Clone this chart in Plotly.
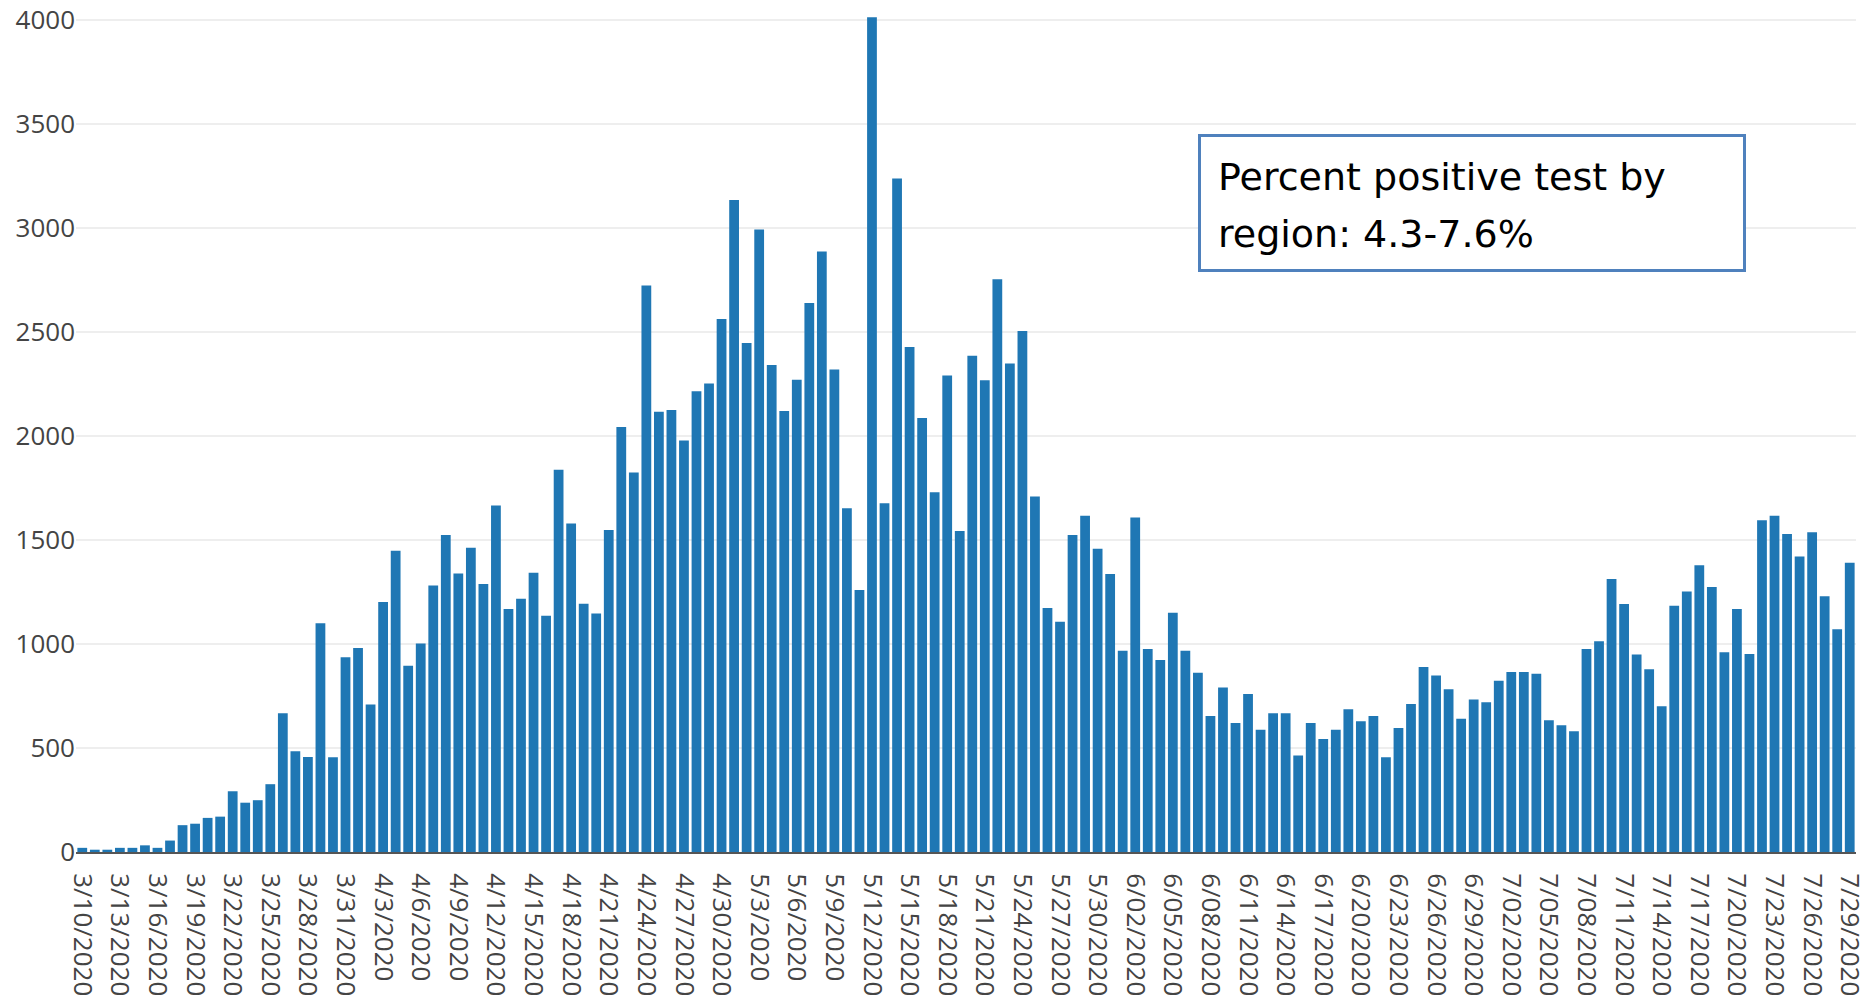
import pandas as pd
import plotly.graph_objects as go

# ---- data ----
dates = [d.strftime("%Y-%m-%d") for d in pd.date_range("2020-03-10", "2020-07-29", freq="D")]

cases = [
    20, 11, 11, 20, 20, 32, 20, 55, 129, 136,
    164, 170, 292, 237, 249, 326, 667, 484, 457, 1100,
    455, 936, 981, 709, 1202, 1448, 896, 1002, 1281, 1524,
    1339, 1463, 1289, 1666, 1168, 1218, 1342, 1136, 1838, 1579,
    1194, 1147, 1548, 2043, 1825, 2724, 2117, 2125, 1978, 2215,
    2252, 2563, 3135, 2447, 2993, 2341, 2120, 2270, 2639, 2887,
    2320, 1653, 1260, 4013, 1677, 3238, 2428, 2086, 1730, 2291,
    1543, 2386, 2268, 2753, 2349, 2505, 1709, 1173, 1107, 1524,
    1616, 1458, 1337, 968, 1608, 976, 923, 1150, 968, 862,
    654, 791, 620, 759, 588, 667, 667, 464, 620, 543,
    588, 686, 628, 654, 456, 596, 712, 889, 849, 783,
    641, 733, 720, 823, 865, 865, 857, 633, 609, 581,
    976, 1013, 1313, 1192, 949, 878, 701, 1184, 1252, 1379,
    1274, 960, 1168, 952, 1595, 1616, 1529, 1421, 1537, 1229,
    1071, 1390,
]

tick_labels = [
    "3/10/2020", "3/13/2020", "3/16/2020", "3/19/2020", "3/22/2020", "3/25/2020",
    "3/28/2020", "3/31/2020", "4/3/2020", "4/6/2020", "4/9/2020", "4/12/2020",
    "4/15/2020", "4/18/2020", "4/21/2020", "4/24/2020", "4/27/2020", "4/30/2020",
    "5/3/2020", "5/6/2020", "5/9/2020", "5/12/2020", "5/15/2020", "5/18/2020",
    "5/21/2020", "5/24/2020", "5/27/2020", "5/30/2020", "6/02/2020", "6/05/2020",
    "6/08/2020", "6/11/2020", "6/14/2020", "6/17/2020", "6/20/2020", "6/23/2020",
    "6/26/2020", "6/29/2020", "7/02/2020", "7/05/2020", "7/08/2020", "7/11/2020",
    "7/14/2020", "7/17/2020", "7/20/2020", "7/23/2020", "7/26/2020", "7/29/2020",
]
tick_positions = dates[::3]

y_ticks = [0, 500, 1000, 1500, 2000, 2500, 3000, 3500, 4000]
y_range = [0, 4096]

note_lines = ["Percent positive test by", "region: 4.3-7.6%"]

# ---- layout geometry (pixels; page body margin removed via post_script) ----
W, H = 1870, 998
L, R, T, B = 76, 14, 0, 146
PW = W - L - R
PH = H - T - B


def px_x(px):
    return (px - L) / PW


def px_y(py):
    return (H - B - py) / PH


fig = go.Figure(
    go.Bar(
        x=dates,
        y=cases,
        marker=dict(color="#1f77b4", line=dict(width=0)),
        hoverinfo="x+y",
    )
)

fig.update_layout(
    width=W,
    height=H,
    margin=dict(l=L, r=R, t=T, b=B, autoexpand=False),
    paper_bgcolor="white",
    plot_bgcolor="white",
    bargap=0.22,
    showlegend=False,
    font=dict(family="Open Sans", size=26, color="#444"),
)

fig.update_xaxes(
    type="category",
    tickmode="array",
    tickvals=tick_positions,
    ticktext=tick_labels,
    tickangle=90,
    tickfont=dict(family="Open Sans", size=26, color="#444"),
    ticklabelstandoff=14,
    ticklabeloverflow="allow",
    showgrid=False,
    showline=True,
    linecolor="#555",
    linewidth=2,
    ticks="",
    automargin=False,
)

fig.update_yaxes(
    range=y_range,
    tickmode="array",
    tickvals=y_ticks,
    tickfont=dict(family="Open Sans", size=26, color="#444"),
    ticklabeloverflow="allow",
    showgrid=True,
    gridcolor="#eeeeee",
    gridwidth=2,
    zeroline=False,
    ticks="",
    automargin=False,
)

# note box
fig.add_shape(
    type="rect",
    xref="paper", yref="paper",
    x0=px_x(1199.5), x1=px_x(1744.5),
    y0=px_y(270.5), y1=px_y(135.5),
    line=dict(color="#4f81bd", width=3),
    fillcolor="white",
    layer="above",
)

line_centers = [177, 234]
for txt, cy in zip(note_lines, line_centers):
    fig.add_annotation(
        xref="paper", yref="paper",
        x=px_x(1216), y=px_y(cy),
        xanchor="left", yanchor="middle",
        text=txt,
        showarrow=False,
        align="left",
        font=dict(family="DejaVu Sans", size=38, color="black"),
    )

fig.write_html(
    "out.html",
    config={"displayModeBar": False},
    post_script="document.body.style.margin='0px';document.body.style.padding='0px';",
)
